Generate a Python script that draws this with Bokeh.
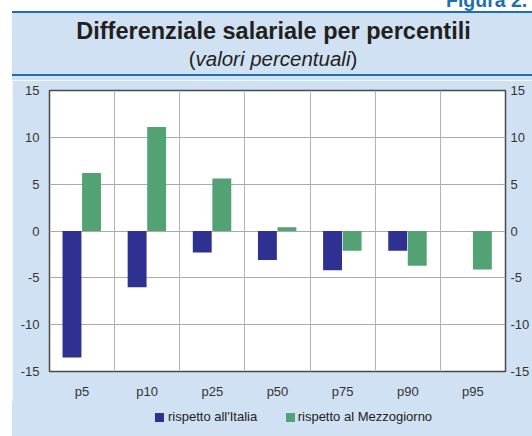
from bokeh.plotting import figure
from bokeh.layouts import column
from bokeh.models import (Range1d, FixedTicker, LinearAxis, ColumnDataSource, Div)
from bokeh.embed import file_html
from bokeh.resources import INLINE

# ---- data ----
categories = ["p5", "p10", "p25", "p50", "p75", "p90", "p95"]
italia = [-13.5, -6.0, -2.3, -3.1, -4.2, -2.1, float("nan")]
mezzogiorno = [6.2, 11.1, 5.6, 0.4, -2.1, -3.7, -4.1]
y_ticks = [-15, -10, -5, 0, 5, 10, 15]
series_names = ["rispetto all'Italia", "rispetto al Mezzogiorno"]
title_text = "Differenziale salariale per percentili"
subtitle_text = "valori percentuali"
figure_label = "Figura 2."

# ---- styles ----
LIGHT = "#cfe1f2"
LINE_BLUE = "#1f6fb0"
BLUE = "#2e3192"
GREEN = "#52a273"
TXT = "#333333"
FONT = "Liberation Sans"
SIDE = (0, 0, 0, 12)   # white strip on the left of the panel

# ---- header (HTML block above the chart) ----
header_html = f"""
<div style="position:relative;width:520px;height:80px;overflow:hidden;
            background:{LIGHT};font-family:'{FONT}',Arial,sans-serif;color:#231f20;">
  <div style="position:absolute;left:0;top:0;width:520px;height:11px;background:#ffffff;"></div>
  <div style="position:absolute;left:0;top:11px;width:520px;height:2px;background:{LINE_BLUE};"></div>
  <div style="position:absolute;left:0;top:74px;width:520px;height:2px;background:{LINE_BLUE};"></div>
  <div style="position:absolute;left:434px;top:-9.5px;font-size:19.5px;line-height:1;
              font-weight:bold;color:{LINE_BLUE};white-space:nowrap;">{figure_label}</div>
  <div style="position:absolute;left:0;top:19.6px;width:523px;text-align:center;
              font-size:23.5px;line-height:1;font-weight:bold;white-space:nowrap;">{title_text}</div>
  <div style="position:absolute;left:0;top:48.6px;width:522px;text-align:center;
              font-size:20.5px;line-height:1;white-space:nowrap;">(<i>{subtitle_text}</i>)</div>
</div>
"""
header = Div(text=header_html, width=520, height=80, margin=SIDE)

# ---- main chart ----
xpos = list(range(1, len(categories) + 1))
p = figure(width=520, height=321,
           x_range=Range1d(0.5, len(categories) + 0.5),
           y_range=Range1d(y_ticks[0], y_ticks[-1]),
           output_backend="svg", toolbar_location=None,
           min_border_left=37, min_border_right=24, min_border_top=10,
           min_border_bottom=30, background_fill_color="white",
           border_fill_color=LIGHT, outline_line_color="#4a4a4a",
           outline_line_width=1.5, margin=SIDE)

src = ColumnDataSource(dict(x=xpos, it=italia, mz=mezzogiorno))
src.data["x_it"] = [x - 0.155 for x in xpos]
src.data["x_mz"] = [x + 0.145 for x in xpos]
p.vbar(x="x_it", top="it", bottom=0, width=0.29, source=src,
       fill_color=BLUE, line_color=None)
p.vbar(x="x_mz", top="mz", bottom=0, width=0.29, source=src,
       fill_color=GREEN, line_color=None)

p.xaxis.ticker = FixedTicker(ticks=xpos)
p.xaxis.major_label_overrides = {x: c for x, c in zip(xpos, categories)}
p.yaxis.ticker = FixedTicker(ticks=y_ticks)
p.yaxis.major_label_overrides = {t: str(t) for t in y_ticks}

right_axis = LinearAxis(ticker=FixedTicker(ticks=y_ticks),
                        major_label_overrides={t: str(t) for t in y_ticks})
p.add_layout(right_axis, "right")

for ax in (p.xaxis[0], p.yaxis[0], right_axis):
    ax.major_tick_line_color = None
    ax.minor_tick_line_color = None
    ax.major_tick_out = 0
    ax.major_tick_in = 0
    ax.minor_tick_out = 0
    ax.minor_tick_in = 0
    ax.axis_line_color = None
    ax.major_label_text_font = FONT
    ax.major_label_text_font_size = "13px"
    ax.major_label_text_color = TXT
p.yaxis[0].major_label_standoff = 10
right_axis.major_label_standoff = 5
p.xaxis.major_label_standoff = 12

p.xgrid.ticker = FixedTicker(ticks=[x + 0.5 for x in xpos[:-1]])
p.xgrid.grid_line_color = "#b4b4b4"
p.ygrid.ticker = FixedTicker(ticks=y_ticks)
p.ygrid.grid_line_color = "#ababab"

# ---- legend strip below the chart (HTML) ----
legend_items = [(BLUE, series_names[0], 143, 156), (GREEN, series_names[1], 274, 285.7)]
parts = []
for color, name, sq_x, tx_x in legend_items:
    parts.append(f'<div style="position:absolute;left:{sq_x}px;top:11.7px;width:9px;'
                 f'height:9px;background:{color};"></div>')
    parts.append(f'<div style="position:absolute;left:{tx_x}px;top:8.7px;font-size:13px;'
                 f'line-height:1;white-space:nowrap;">{name}</div>')
footer_html = (f'<div style="position:relative;width:520px;height:35px;overflow:hidden;'
               f'background:{LIGHT};font-family:\'{FONT}\',Arial,sans-serif;color:#222222;">'
               + "".join(parts) + "</div>")
footer = Div(text=footer_html, width=520, height=35, margin=SIDE)

layout = column(header, p, footer)
open("out.html", "w").write(file_html(layout, INLINE))
